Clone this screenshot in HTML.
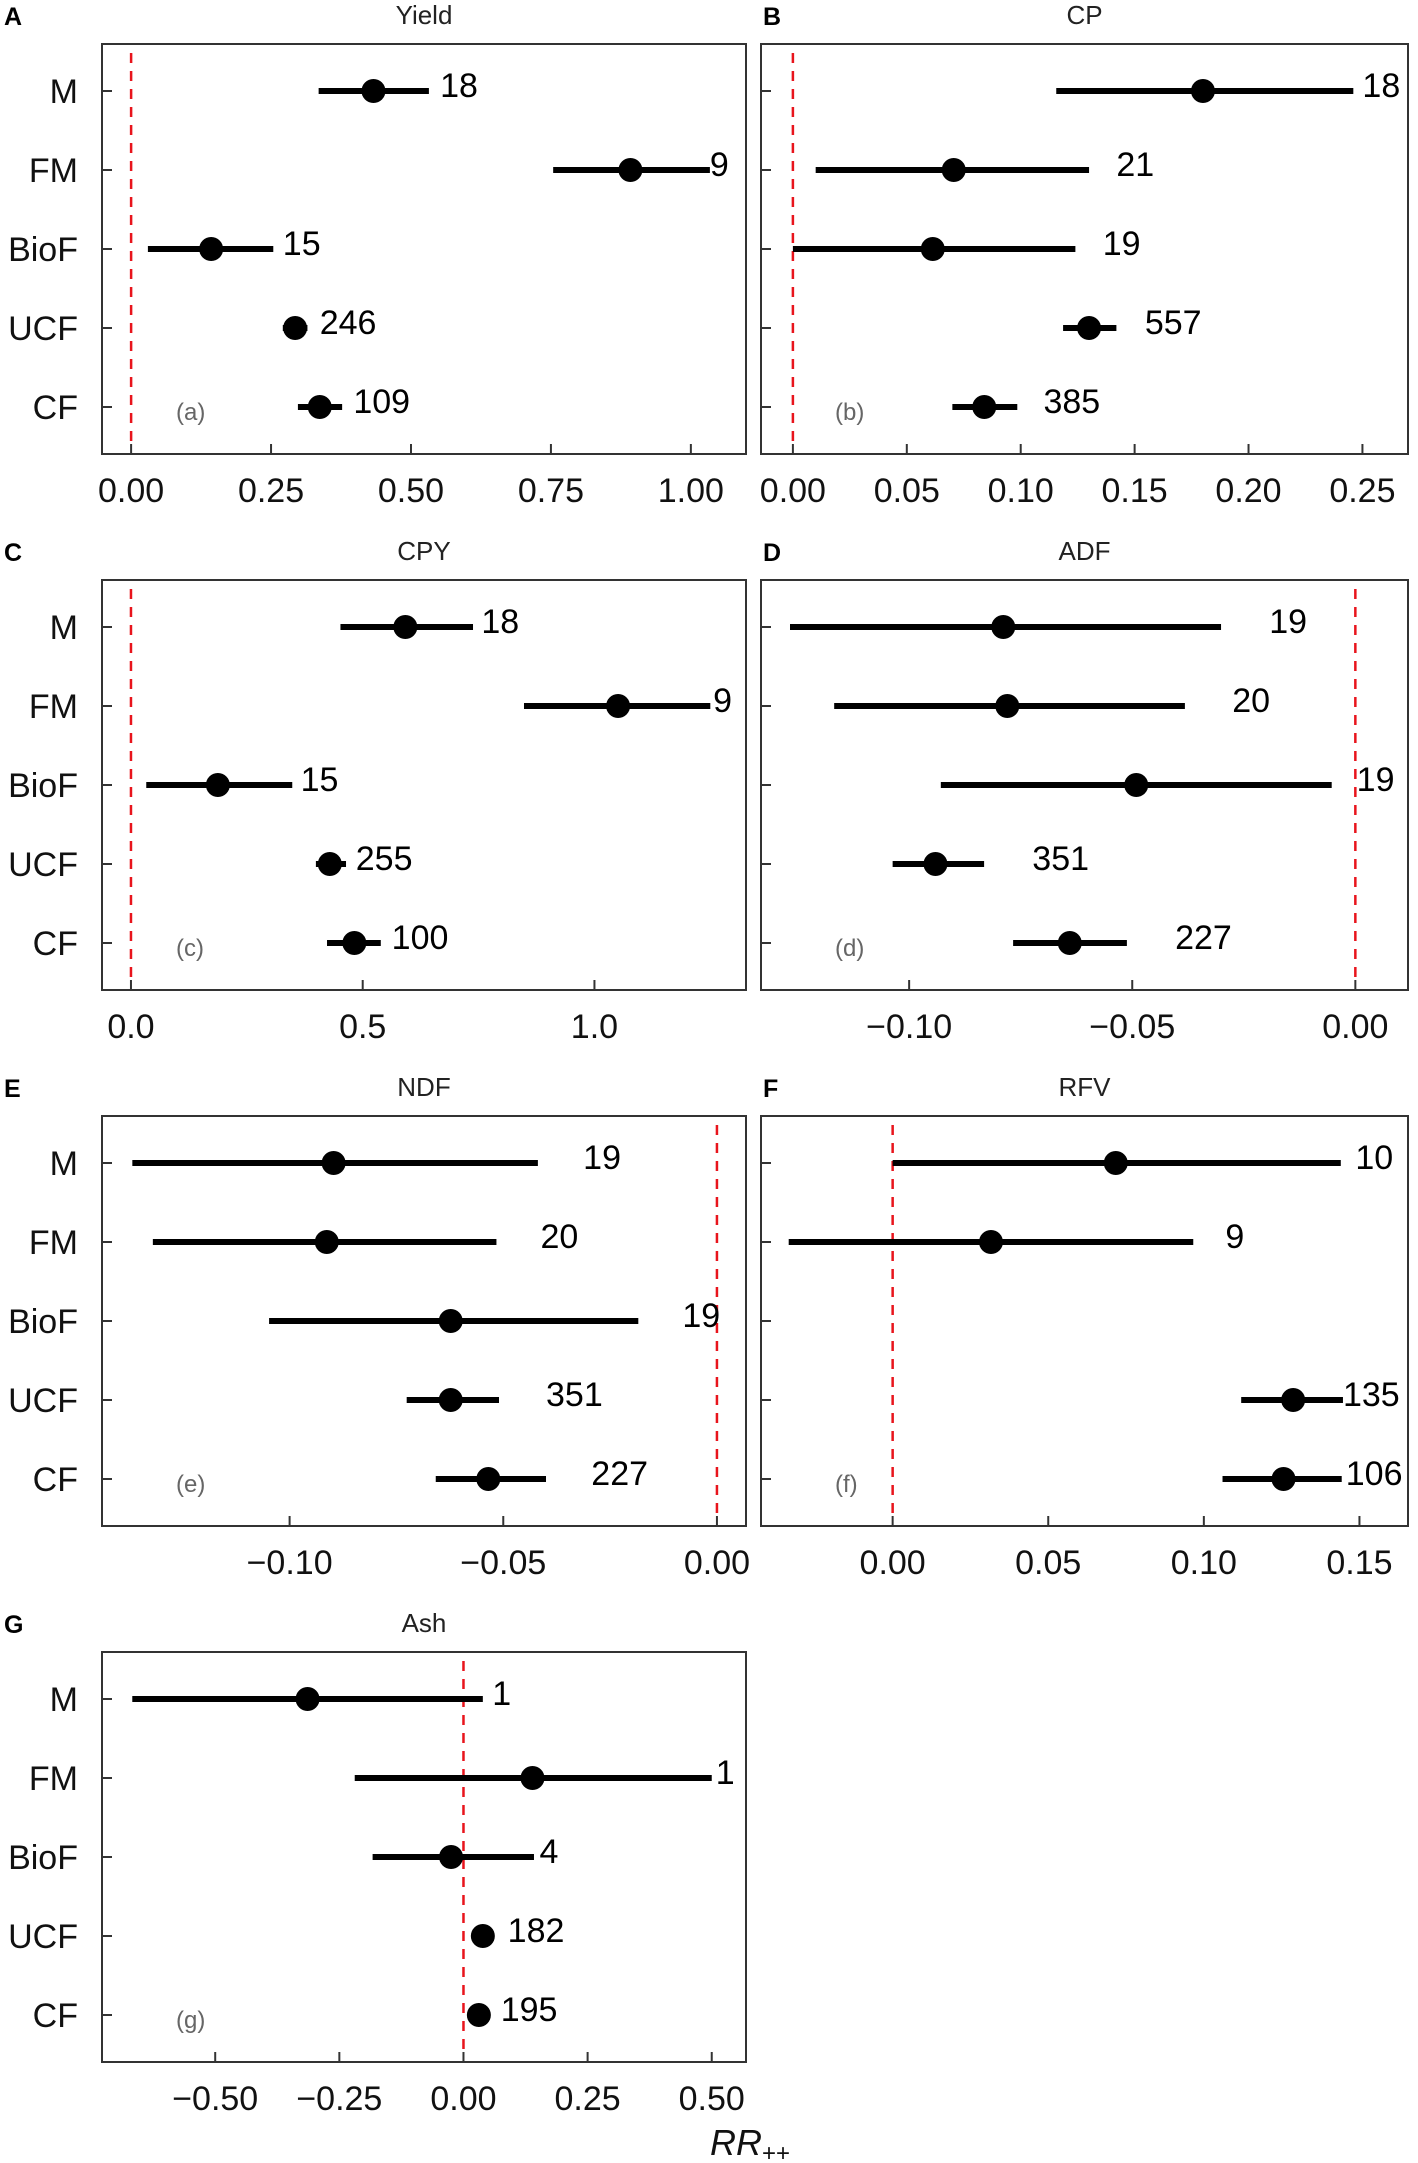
<!DOCTYPE html>
<html><head><meta charset="utf-8"><style>
body{margin:0;background:#fff}
svg{display:block;font-family:"Liberation Sans Narrow","Liberation Sans",Arial,sans-serif}
</style></head><body>
<svg id="fig" width="1418" height="2163" viewBox="0 0 1418 2163"></svg>
<script>
const categories = ["M","FM","BioF","UCF","CF"];
// Panel A Yield
const yieldLo = [0.335,0.754,0.030,0.271,0.298];
const yieldPt = [0.433,0.892,0.143,0.293,0.337];
const yieldHi = [0.532,1.034,0.254,0.315,0.377];
const yieldN = ["18","9","15","246","109"];
const yieldLab = [0.552,1.034,0.271,0.337,0.397];
const yieldTicks = [0,0.25,0.5,0.75,1.0];
const yieldTickLabels = ["0.00","0.25","0.50","0.75","1.00"];
// Panel B CP
const cpLo = [0.1156,0.010,0.0,0.1186,0.070];
const cpPt = [0.180,0.0706,0.0614,0.130,0.084];
const cpHi = [0.246,0.130,0.124,0.142,0.0985];
const cpN = ["18","21","19","557","385"];
const cpLab = [0.25,0.142,0.136,0.1545,0.110];
const cpTicks = [0,0.05,0.10,0.15,0.20,0.25];
const cpTickLabels = ["0.00","0.05","0.10","0.15","0.20","0.25"];
// Panel C CPY
const cpyLo = [0.452,0.848,0.033,0.399,0.423];
const cpyPt = [0.592,1.051,0.1875,0.429,0.482];
const cpyHi = [0.738,1.25,0.348,0.464,0.539];
const cpyN = ["18","9","15","255","100"];
const cpyLab = [0.756,1.256,0.366,0.485,0.5625];
const cpyTicks = [0,0.5,1.0];
const cpyTickLabels = ["0.0","0.5","1.0"];
// Panel D ADF
const adfLo = [-0.1267,-0.1168,-0.0929,-0.1037,-0.0767];
const adfPt = [-0.0789,-0.078,-0.0491,-0.0941,-0.064];
const adfHi = [-0.0301,-0.0382,-0.0053,-0.0832,-0.0512];
const adfN = ["19","20","19","351","227"];
const adfLab = [-0.0193,-0.0276,0.0003,-0.0724,-0.0404];
const adfTicks = [-0.10,-0.05,0.0];
const adfTickLabels = ["\u22120.10","\u22120.05","0.00"];
// Panel E NDF
const ndfLo = [-0.1368,-0.132,-0.1048,-0.0726,-0.0658];
const ndfPt = [-0.0897,-0.0913,-0.0623,-0.0623,-0.0535];
const ndfHi = [-0.0419,-0.0516,-0.0184,-0.051,-0.040];
const ndfN = ["19","20","19","351","227"];
const ndfLab = [-0.0313,-0.0413,-0.0081,-0.0400,-0.0294];
const ndfTicks = [-0.10,-0.05,0.0];
const ndfTickLabels = ["\u22120.10","\u22120.05","0.00"];
// Panel F RFV (BioF missing)
const rfvLo = [0.0,-0.0334,null,0.112,0.106];
const rfvPt = [0.0717,0.0316,null,0.1287,0.1256];
const rfvHi = [0.144,0.0966,null,0.1447,0.1443];
const rfvN = ["10","9","","135","106"];
const rfvLab = [0.1487,0.1069,null,0.1447,0.1456];
const rfvTicks = [0,0.05,0.10,0.15];
const rfvTickLabels = ["0.00","0.05","0.10","0.15"];
// Panel G Ash
const ashLo = [-0.667,-0.219,-0.183,0.025,0.014];
const ashPt = [-0.314,0.139,-0.025,0.039,0.031];
const ashHi = [0.039,0.5,0.142,0.053,0.047];
const ashN = ["1","1","4","182","195"];
const ashLab = [0.058,0.508,0.153,0.089,0.075];
const ashTicks = [-0.5,-0.25,0,0.25,0.5];
const ashTickLabels = ["\u22120.50","\u22120.25","0.00","0.25","0.50"];

const panels = [
 {letter:"A",title:"Yield",tag:"(a)",col:0,row:0,dom:[-0.052,1.0985],lo:yieldLo,pt:yieldPt,hi:yieldHi,n:yieldN,lab:yieldLab,ticks:yieldTicks,tl:yieldTickLabels},
 {letter:"B",title:"CP",tag:"(b)",col:1,row:0,dom:[-0.014,0.270],lo:cpLo,pt:cpPt,hi:cpHi,n:cpN,lab:cpLab,ticks:cpTicks,tl:cpTickLabels},
 {letter:"C",title:"CPY",tag:"(c)",col:0,row:1,dom:[-0.0625,1.327],lo:cpyLo,pt:cpyPt,hi:cpyHi,n:cpyN,lab:cpyLab,ticks:cpyTicks,tl:cpyTickLabels},
 {letter:"D",title:"ADF",tag:"(d)",col:1,row:1,dom:[-0.1332,0.0118],lo:adfLo,pt:adfPt,hi:adfHi,n:adfN,lab:adfLab,ticks:adfTicks,tl:adfTickLabels},
 {letter:"E",title:"NDF",tag:"(e)",col:0,row:2,dom:[-0.1439,0.0068],lo:ndfLo,pt:ndfPt,hi:ndfHi,n:ndfN,lab:ndfLab,ticks:ndfTicks,tl:ndfTickLabels},
 {letter:"F",title:"RFV",tag:"(f)",col:1,row:2,dom:[-0.0423,0.1656],lo:rfvLo,pt:rfvPt,hi:rfvHi,n:rfvN,lab:rfvLab,ticks:rfvTicks,tl:rfvTickLabels},
 {letter:"G",title:"Ash",tag:"(g)",col:0,row:3,dom:[-0.728,0.569],lo:ashLo,pt:ashPt,hi:ashHi,n:ashN,lab:ashLab,ticks:ashTicks,tl:ashTickLabels}
];

const NS="http://www.w3.org/2000/svg";
const svg=document.getElementById('fig');
function mk(tag,attrs,parent,text){
  const e=document.createElementNS(NS,tag);
  for(const k in attrs) e.setAttribute(k,attrs[k]);
  if(text!==undefined) e.textContent=text;
  (parent||svg).appendChild(e); return e;
}
const colX=[[102,746],[761,1408]];
const rowTop=[44,580,1116,1652];
const BH=410;

panels.forEach(p=>{
  const x0=colX[p.col][0], x1=colX[p.col][1], y0=rowTop[p.row], y1=y0+BH;
  const g=mk('g',{});
  
  
  const sx=v=>x0+(v-p.dom[0])/(p.dom[1]-p.dom[0])*(x1-x0);
  const sy=i=>y0+47+i*79;
  const L=mk('text',{x:p.col===0?4:x0+2,y:y0-19,'font-size':25,'font-weight':'bold','font-family':'"Liberation Sans",Arial,sans-serif'},g,p.letter);
  
  
  const T=mk('text',{x:(x0+x1)/2,y:y0-20,'font-size':26,'text-anchor':'middle',fill:'#222'},g,p.title);
  
  
  const box=mk('rect',{x:x0,y:y0,width:x1-x0,height:BH,fill:'none',stroke:'#333','stroke-width':2},g);
  
  
  categories.forEach((c,i)=>{
    mk('line',{x1:x0,x2:x0+10,y1:sy(i),y2:sy(i),stroke:'#333','stroke-width':2},g);
    if(p.col===0){
      const t=mk('text',{x:x0-24,y:sy(i)+12,'font-size':34,'text-anchor':'end',fill:'#111'},g,c);
      
      
    }
  });
  p.ticks.forEach((v,i)=>{
    mk('line',{x1:sx(v),x2:sx(v),y1:y1,y2:y1-10,stroke:'#333','stroke-width':2},g);
    const t=mk('text',{x:sx(v),y:y1+48,'font-size':34,'text-anchor':'middle',fill:'#111'},g,p.tl[i]);
    
    
  });
  const z=mk('line',{x1:sx(0),x2:sx(0),y1:y0+9,y2:y1-9,stroke:'#e8141c','stroke-width':2.5,'stroke-dasharray':'10,8'},g);
  
  
  categories.forEach((c,i)=>{
    if(p.pt[i]===null) return;
    const ln=mk('line',{x1:sx(p.lo[i]),x2:sx(p.hi[i]),y1:sy(i),y2:sy(i),stroke:'#000','stroke-width':6},g);
    
    
    const ci=mk('circle',{cx:sx(p.pt[i]),cy:sy(i),r:12,fill:'#000'},g);
    
    
    const nt=mk('text',{x:sx(p.lab[i]),y:sy(i)+6,'font-size':34,fill:'#000'},g,p.n[i]);
    
    
  });
  const tg=mk('text',{x:x0+74,y:sy(4)+13,'font-size':24,fill:'#666'},g,p.tag);
  
  
});
const xt=mk('text',{x:710,y:2155,'font-size':36,'font-style':'italic',fill:'#111'},svg);


xt.appendChild(document.createTextNode('RR'));
const sub=mk('tspan',{'font-size':24,'font-style':'normal',dy:6},xt,'++');
</script>
</body></html>
